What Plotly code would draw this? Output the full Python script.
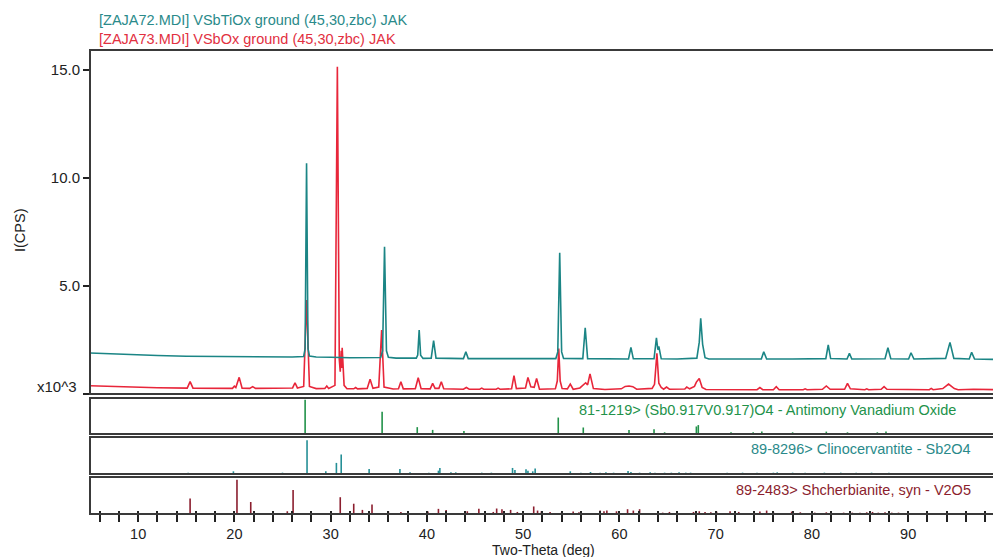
import plotly.graph_objects as go

# ---------------- data ----------------
# Measured patterns: (two-theta [deg], intensity [x10^3 CPS]) vertices
teal_profile = [
    (5, 1.90), (8, 1.84), (12, 1.78), (15, 1.75), (18, 1.74), (20, 1.72), (23, 1.72), (26, 1.71),
    (27.2, 1.74), (27.35, 2.1), (27.5, 10.68), (27.65, 2.1), (27.8, 1.76),
    (28.5, 1.71), (30, 1.70), (32, 1.68), (35.2, 1.69),
    (35.4, 2.0), (35.6, 6.82), (35.8, 2.0), (36.0, 1.70),
    (36.8, 1.66), (38.9, 1.66), (39.05, 1.8), (39.2, 2.96), (39.35, 1.8), (39.6, 1.65),
    (40.45, 1.66), (40.7, 2.47), (40.95, 1.66),
    (43.8, 1.64), (44.05, 1.96), (44.3, 1.64),
    (48, 1.63), (53.4, 1.64), (53.6, 1.95), (53.8, 6.54), (54.0, 1.95), (54.2, 1.65),
    (56.2, 1.64), (56.45, 3.07), (56.7, 1.64),
    (60.95, 1.62), (61.2, 2.16), (61.45, 1.63),
    (63.6, 1.63), (63.85, 2.60), (64.0, 2.05), (64.1, 2.2), (64.35, 1.63),
    (66, 1.62), (68.05, 1.66), (68.3, 2.4), (68.45, 3.50), (68.65, 2.3), (68.9, 1.68), (69.3, 1.62),
    (72, 1.62), (74.75, 1.62), (75.0, 1.96), (75.3, 1.62),
    (78, 1.62), (81.45, 1.64), (81.7, 2.27), (81.95, 1.64),
    (83.65, 1.62), (83.9, 1.88), (84.15, 1.62),
    (87.6, 1.63), (87.9, 2.14), (88.2, 1.63),
    (90.05, 1.62), (90.3, 1.91), (90.6, 1.62),
    (93.9, 1.65), (94.35, 2.39), (94.75, 1.65),
    (96.35, 1.62), (96.6, 1.93), (96.9, 1.62), (99, 1.60),
]

red_profile = [
    (5, 0.38), (8, 0.33), (12, 0.29), (15.1, 0.27), (15.4, 0.57), (15.7, 0.27),
    (18, 0.25), (19.8, 0.26), (20.0, 0.36), (20.15, 0.30), (20.5, 0.77), (20.8, 0.27),
    (21.6, 0.26), (21.9, 0.34), (22.2, 0.26), (25, 0.27),
    (26.05, 0.28), (26.3, 0.52), (26.55, 0.28), (27.2, 0.35), (27.5, 4.35), (27.8, 0.35),
    (28.5, 0.25), (29.4, 0.26), (29.6, 0.37), (29.8, 0.26),
    (30.45, 0.4), (30.7, 15.15), (30.9, 1.6), (31.0, 1.03), (31.1, 2.0), (31.15, 1.2), (31.2, 2.14), (31.4, 0.4),
    (31.7, 0.24), (32.4, 0.24), (32.6, 0.30), (32.8, 0.24),
    (33.8, 0.26), (34.1, 0.68), (34.4, 0.26), (35.0, 0.32), (35.3, 2.96), (35.55, 0.32),
    (36.5, 0.23), (37.05, 0.24), (37.3, 0.57), (37.55, 0.24),
    (38.8, 0.25), (39.1, 0.75), (39.4, 0.25), (40.35, 0.24), (40.6, 0.49), (40.85, 0.26),
    (41.25, 0.26), (41.5, 0.57), (41.75, 0.24),
    (43.8, 0.22), (44.1, 0.30), (44.4, 0.22), (45.5, 0.22), (45.7, 0.27), (45.9, 0.22),
    (47.2, 0.22), (47.4, 0.27), (47.6, 0.22),
    (48.8, 0.24), (49.05, 0.85), (49.3, 0.25), (50.25, 0.28), (50.5, 0.77), (50.8, 0.33),
    (51.15, 0.31), (51.4, 0.72), (51.7, 0.22),
    (53.35, 0.24), (53.55, 0.6), (53.7, 2.11), (53.85, 0.6), (54.05, 0.25),
    (54.6, 0.24), (54.9, 0.46), (55.2, 0.22),
    (55.9, 0.28), (56.3, 0.45), (56.5, 0.52), (56.7, 0.42), (56.95, 0.93), (57.3, 0.25),
    (58.5, 0.21), (60.2, 0.24), (60.6, 0.35), (61.0, 0.37), (61.4, 0.34), (61.8, 0.22),
    (63.4, 0.26), (63.65, 0.45), (63.9, 1.88), (64.1, 0.5), (64.35, 0.3),
    (64.6, 0.22), (64.9, 0.32), (65.2, 0.22),
    (66.8, 0.23), (67.0, 0.32), (67.3, 0.24), (67.8, 0.35), (68.0, 0.55), (68.3, 0.72), (68.6, 0.3), (69.0, 0.21),
    (71.0, 0.20), (71.8, 0.22), (72.0, 0.20), (74.3, 0.20), (74.6, 0.30), (74.9, 0.20),
    (76.0, 0.20), (76.3, 0.34), (76.6, 0.20), (79.1, 0.20), (79.3, 0.24), (79.5, 0.20),
    (81.1, 0.22), (81.5, 0.37), (81.9, 0.22), (83.4, 0.22), (83.7, 0.49), (84.0, 0.24),
    (85.5, 0.20), (85.7, 0.24), (85.9, 0.20), (87.2, 0.22), (87.5, 0.34), (87.8, 0.22),
    (92.2, 0.20), (92.4, 0.26), (92.6, 0.20), (93.6, 0.25), (94.2, 0.46), (94.8, 0.25),
    (95.2, 0.20), (96.8, 0.22), (99, 0.20),
]

# Reference stick patterns: positions [deg] and relative intensity [%]
pdf_81_1219_pos = [27.35, 35.35, 39.0, 40.6, 43.85, 53.65, 56.25, 61.0, 63.6, 64.7, 68.0, 68.2,
                   71.6, 73.9, 74.8, 78.0, 81.5, 83.7, 86.8, 87.7]
pdf_81_1219_int = [100, 65, 20, 12, 9, 48, 19, 12, 14, 5, 22, 26,
                   5, 5, 7, 5, 7, 5, 5, 7]

pdf_89_8296_pos = [15.2, 19.9, 25.0, 27.55, 29.5, 30.6, 31.1, 34.0, 37.2, 38.25, 40.2, 41.2, 41.35,
                   42.5, 43.0, 45.7, 46.7, 48.9, 49.15, 50.3, 50.5, 51.0, 51.25,
                   54.9, 56.0, 57.0, 58.0, 58.6, 59.4, 60.9, 61.2, 62.1, 63.2, 63.7, 64.7, 65.4,
                   66.2, 66.9, 67.4, 70.5, 71.2, 72.0, 72.8, 73.6, 74.3, 75.2, 76.0, 76.4, 77.2,
                   78.0, 78.5, 79.3, 80.5, 81.3, 82.0, 83.0, 83.8, 84.6, 85.5, 86.2, 86.8, 88.0,
                   89.0, 89.5]
pdf_89_8296_int = [4, 8, 4, 100, 8, 33, 58, 15, 15, 5, 4, 10, 18,
                   5, 5, 4, 4, 18, 12, 14, 10, 8, 16,
                   8, 4, 6, 4, 5, 4, 9, 6, 4, 5, 4, 4, 4,
                   5, 4, 4, 3, 4, 3, 4, 3, 4, 3, 4, 5, 3,
                   4, 3, 4, 3, 4, 3, 4, 3, 4, 3, 4, 3, 4,
                   3, 3]

pdf_89_2483_pos = [15.4, 20.27, 21.7, 25.5, 26.1, 31.0, 32.4, 33.3, 34.3, 36.0, 37.3, 40.1, 41.2,
                   42.0, 44.2, 45.4, 46.9, 47.25, 47.8, 48.7, 49.4, 51.1, 51.5, 51.9, 52.8, 54.0,
                   55.2, 55.8, 58.0, 58.4, 58.7, 59.7, 60.85, 61.45, 62.1, 64.0, 64.5, 65.2, 66.0,
                   67.7, 68.3, 68.9, 69.5, 70.1, 71.5, 72.4, 74.6, 75.3, 76.0, 77.9, 78.8, 80.3,
                   81.5, 82.5, 83.3, 84.2, 85.0, 85.7, 86.3, 86.9, 87.6, 88.3, 89.0, 89.6]
pdf_89_2483_int = [45, 100, 35, 8, 70, 49, 30, 12, 28, 8, 6, 7, 15,
                   12, 8, 15, 6, 16, 14, 12, 6, 22, 10, 8, 6, 5,
                   7, 5, 10, 8, 10, 8, 14, 10, 14, 6, 4, 6, 5,
                   6, 8, 6, 5, 7, 8, 6, 7, 10, 6, 7, 5, 4,
                   5, 3, 4, 4, 4, 5, 6, 4, 5, 4, 4, 3]

x_tick_values = list(range(6, 99, 2))
x_tick_labels = [str(v) if v % 10 == 0 else "" for v in x_tick_values]
y_tick_values = [0, 5, 10, 15]
y_tick_labels = ["", "5.0", "10.0", "15.0"]

# ---------------- styling ----------------
FONT = "Liberation Sans, Arial, sans-serif"
TEAL = "#1b8585"
RED = "#e8263a"
GREEN = "#22924a"
STICK_TEAL = "#258f96"
DARKRED = "#8b1e2e"
BORDER = "#3a3a3a"

W, H = 993, 557
ML, MR, MT, MB = 90, 0, 50, 43
PH = H - MT - MB
PW = W - ML - MR


def py(px):
    return (H - MB - px) / PH


def pxx(px):
    return (px - ML) / PW


def sticks(pos, inten):
    xs, ys = [], []
    for p, v in zip(pos, inten):
        xs += [p, p, None]
        ys += [0, v, None]
    return xs, ys


fig = go.Figure()

fig.add_trace(go.Scatter(x=[p[0] for p in red_profile], y=[p[1] for p in red_profile],
                         mode="lines", line=dict(color=RED, width=1.6), xaxis="x", yaxis="y",
                         hoverinfo="skip"))
fig.add_trace(go.Scatter(x=[p[0] for p in teal_profile], y=[p[1] for p in teal_profile],
                         mode="lines", line=dict(color=TEAL, width=1.6), xaxis="x", yaxis="y",
                         hoverinfo="skip"))

for (pos, inten, col, ya) in [
    (pdf_81_1219_pos, pdf_81_1219_int, GREEN, "y2"),
    (pdf_89_8296_pos, pdf_89_8296_int, STICK_TEAL, "y3"),
    (pdf_89_2483_pos, pdf_89_2483_int, DARKRED, "y4"),
]:
    sx, sy = sticks(pos, inten)
    fig.add_trace(go.Scatter(x=sx, y=sy, mode="lines", line=dict(color=col, width=1.6),
                             xaxis="x", yaxis=ya, hoverinfo="skip"))

# invisible trace for the inside-tick overlay axis
fig.add_trace(go.Scatter(x=[50], y=[0], mode="markers", marker=dict(opacity=0),
                         xaxis="x2", yaxis="y4", hoverinfo="skip"))

x_range = [5, 5 + PW / 9.625]

dom_main = [py(394), 1.0]
dom_p1 = [py(434), py(398)]
dom_p2 = [py(474), py(437)]
dom_p3 = [0.0, py(477)]

fig.update_layout(
    width=W, height=H,
    margin=dict(l=ML, r=MR, t=MT, b=MB, pad=0),
    paper_bgcolor="white", plot_bgcolor="white",
    showlegend=False,
    font=dict(family=FONT, size=14, color="#222222"),
    xaxis=dict(range=x_range, anchor="y4", domain=[0, 1],
               tickmode="array", tickvals=x_tick_values, ticktext=x_tick_labels,
               ticks="outside", ticklen=7, tickwidth=1.5, tickcolor="#222222",
               showgrid=False, zeroline=False, showline=False,
               tickfont=dict(family=FONT, size=14.5, color="#222222")),
    xaxis2=dict(range=x_range, anchor="y4", overlaying="x",
                tickmode="array", tickvals=x_tick_values,
                ticks="inside", ticklen=3, tickwidth=1.5, tickcolor="#222222",
                showticklabels=False, showgrid=False, zeroline=False, showline=False),
    yaxis=dict(domain=dom_main, range=[0, 15.93], anchor="x",
               tickmode="array", tickvals=y_tick_values, ticktext=y_tick_labels,
               ticks="outside", ticklen=6, tickwidth=1.5, tickcolor="#222222",
               showgrid=False, zeroline=False, showline=False,
               tickfont=dict(family=FONT, size=15, color="#222222")),
    yaxis2=dict(domain=dom_p1, range=[0, 105], anchor="x", showticklabels=False,
                ticks="", showgrid=False, zeroline=False, showline=False),
    yaxis3=dict(domain=dom_p2, range=[0, 110], anchor="x", showticklabels=False,
                ticks="", showgrid=False, zeroline=False, showline=False),
    yaxis4=dict(domain=dom_p3, range=[0, 108], anchor="x", showticklabels=False,
                ticks="", showgrid=False, zeroline=False, showline=False),
)

# panel borders
shapes = []
for d in (dom_main, dom_p1, dom_p2, dom_p3):
    shapes.append(dict(type="rect", xref="paper", yref="paper", x0=0, x1=1.03,
                       y0=d[0], y1=d[1], line=dict(color=BORDER, width=2),
                       fillcolor="rgba(0,0,0,0)", layer="above"))
fig.update_layout(shapes=shapes)

ann = [
    dict(text="[ZAJA72.MDI] VSbTiOx ground (45,30,zbc) JAK", x=pxx(97), y=py(20),
         xanchor="left", yanchor="middle", font=dict(color="#2a8a8a", size=14.5)),
    dict(text="[ZAJA73.MDI] VSbOx ground (45,30,zbc) JAK", x=pxx(97), y=py(39),
         xanchor="left", yanchor="middle", font=dict(color="#e2303f", size=14.5)),
    dict(text="I(CPS)", x=pxx(20), y=py(230), textangle=-90,
         xanchor="center", yanchor="middle", font=dict(color="#222222", size=14.5)),
    dict(text="x10^3", x=pxx(79), y=py(386), xanchor="right", yanchor="middle",
         font=dict(color="#222222", size=15)),
    dict(text="81-1219> (Sb0.917V0.917)O4 - Antimony Vanadium Oxide", x=pxx(958), y=py(410),
         xanchor="right", yanchor="middle", font=dict(color=GREEN, size=14.5)),
    dict(text="89-8296> Clinocervantite - Sb2O4", x=pxx(973), y=py(449),
         xanchor="right", yanchor="middle", font=dict(color="#2a8a8a", size=14.5)),
    dict(text="89-2483> Shcherbianite, syn - V2O5", x=pxx(973), y=py(490),
         xanchor="right", yanchor="middle", font=dict(color=DARKRED, size=14.5)),
    dict(text="Two-Theta (deg)", x=pxx(543), y=py(549.5), xanchor="center", yanchor="middle",
         font=dict(color="#222222", size=14)),
]
for a in ann:
    a.update(xref="paper", yref="paper", showarrow=False)
    a["font"]["family"] = FONT
fig.update_layout(annotations=ann)

fig.write_html("out.html", config={"displayModeBar": False},
               post_script="document.body.style.margin='0';document.body.style.overflow='hidden';")
